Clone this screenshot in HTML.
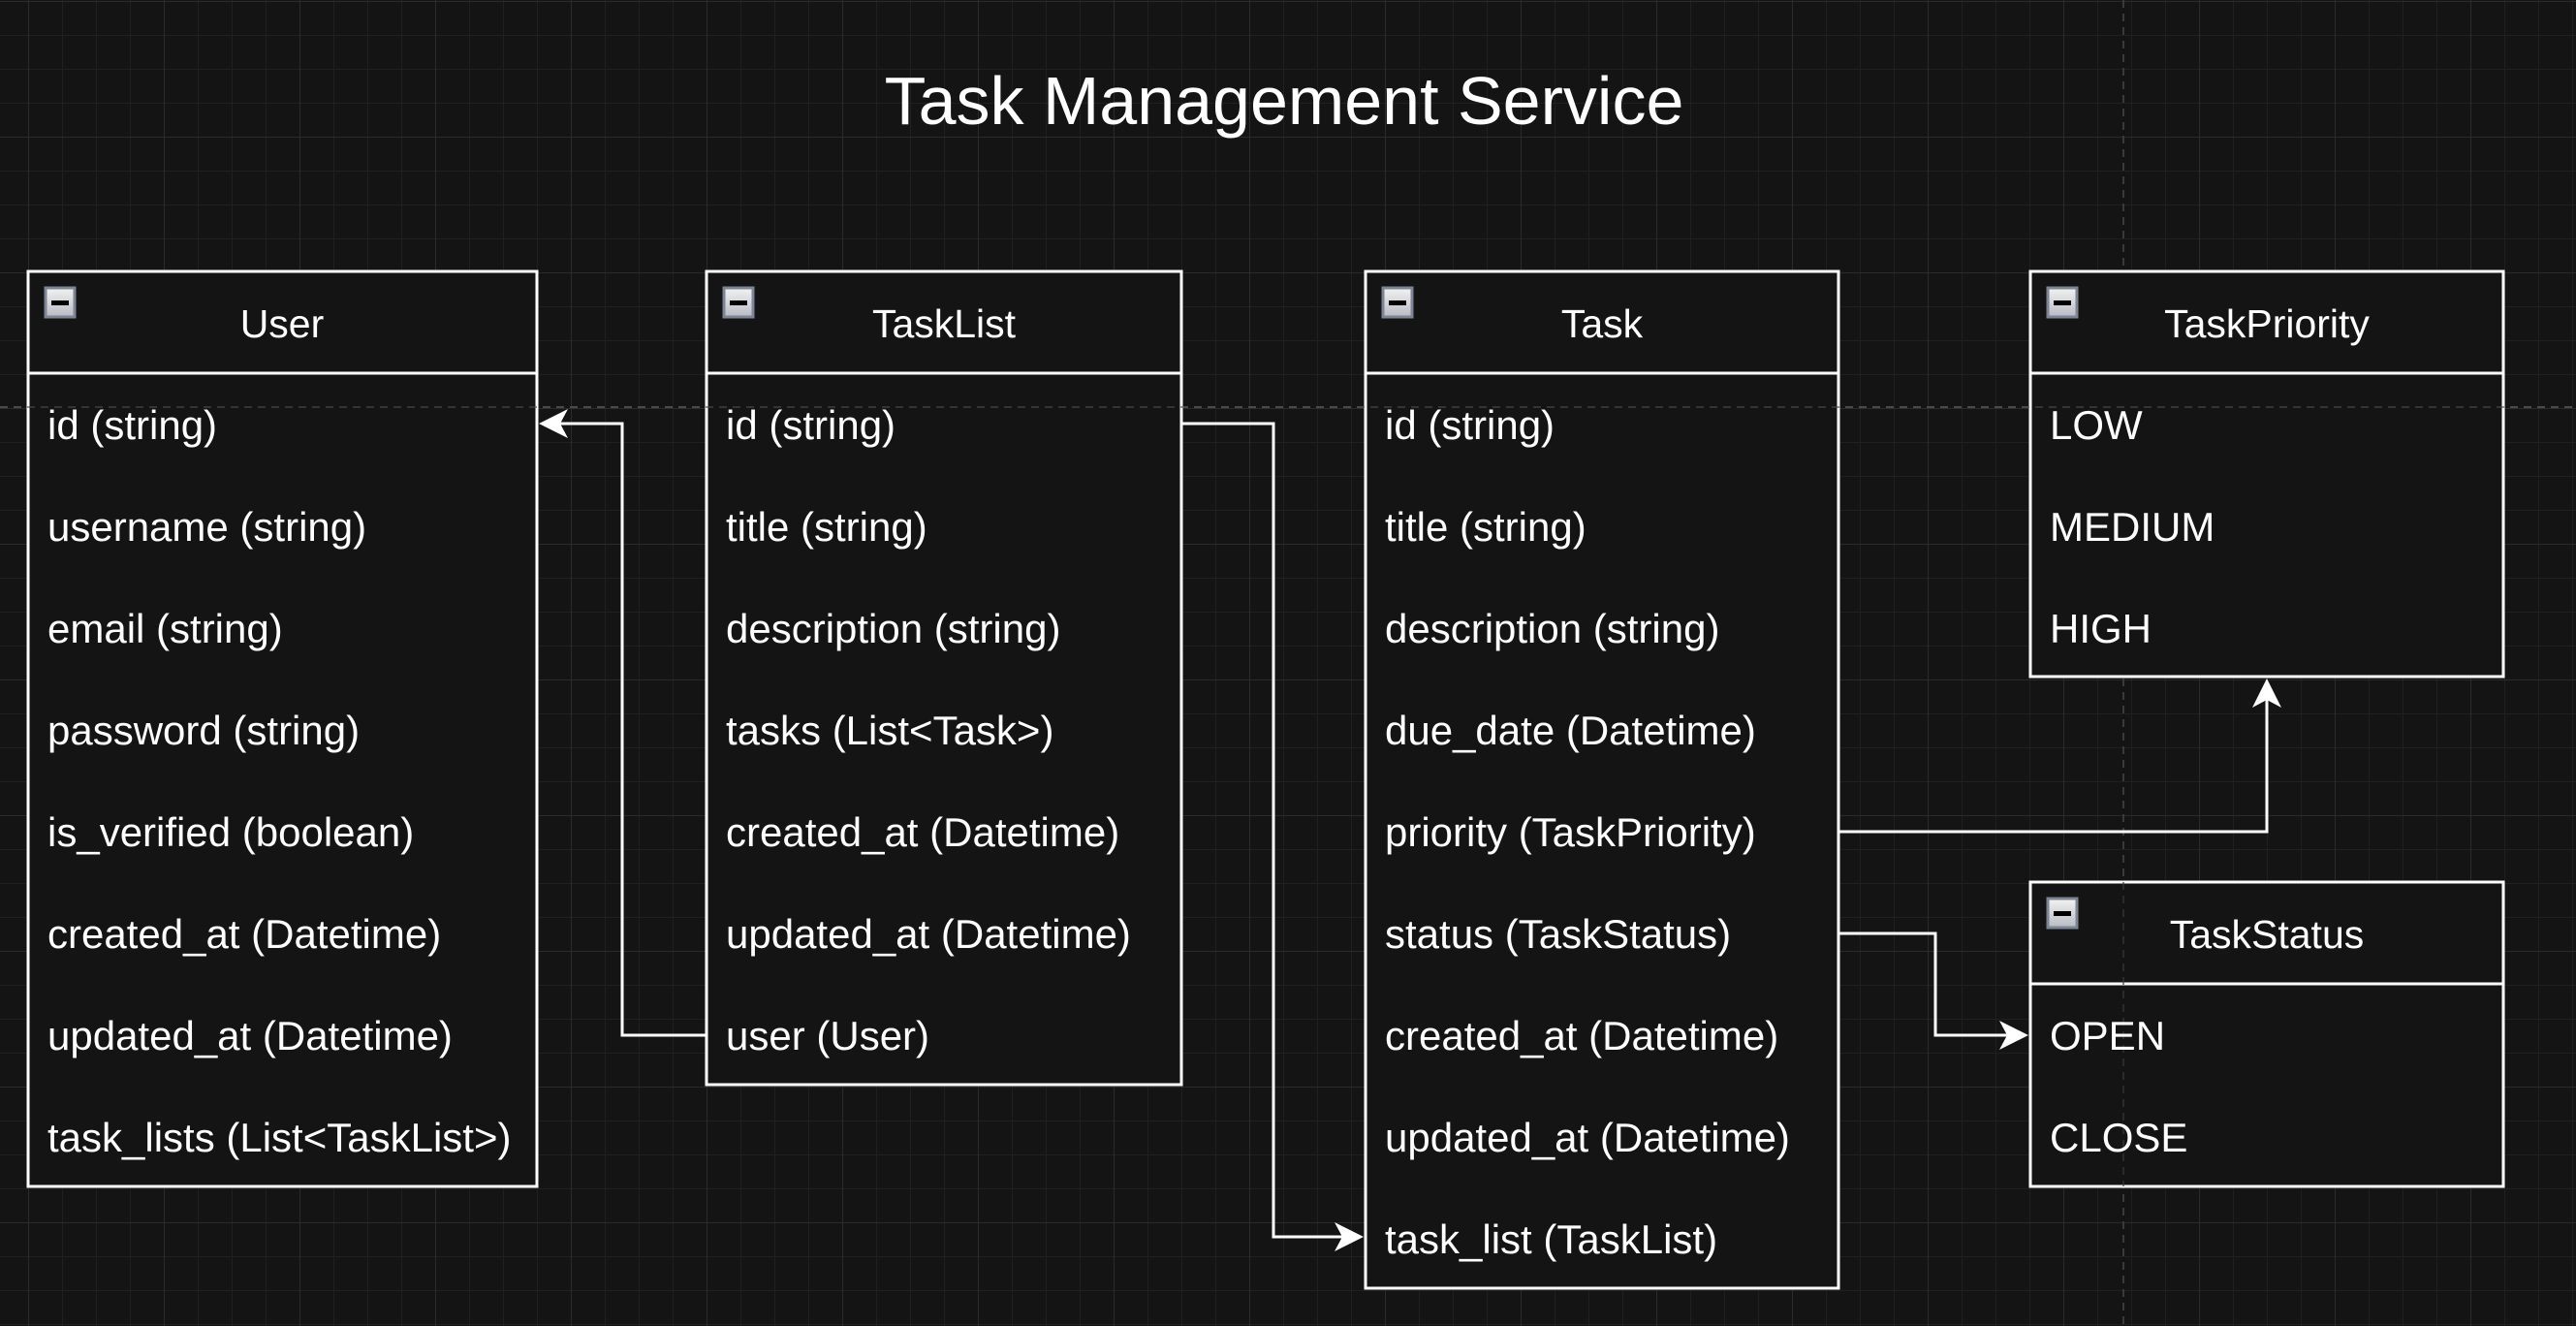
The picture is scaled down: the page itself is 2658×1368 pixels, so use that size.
<!DOCTYPE html>
<html><head><meta charset="utf-8"><style>
html,body{margin:0;padding:0;background:#141414;}
svg{display:block;}
text{font-family:"Liberation Sans",Arial,sans-serif;fill:#fff;}
</style></head><body>
<svg width="2658" height="1368" viewBox="0 0 2658 1368" xmlns="http://www.w3.org/2000/svg">
<defs>
<pattern id="minor" x="29" y="1" width="35" height="35" patternUnits="userSpaceOnUse">
<path d="M0 0V35M0 0H35" stroke="#202020" stroke-width="2" fill="none"/>
</pattern>
<pattern id="major" x="29" y="1" width="140" height="140" patternUnits="userSpaceOnUse">
<path d="M0 0V140M0 0H140" stroke="#2b2b2b" stroke-width="2" fill="none"/>
</pattern>
<linearGradient id="ig" x1="0" y1="0" x2="0" y2="1"><stop offset="0" stop-color="#f2f2f2"/><stop offset="1" stop-color="#b8bcc4"/></linearGradient>
</defs>
<rect width="2658" height="1368" fill="#141414"/>
<rect width="2658" height="1368" fill="url(#minor)"/>
<rect width="2658" height="1368" fill="url(#major)"/>
<line x1="0" y1="420" x2="2658" y2="420" stroke="#4a4a4a" stroke-width="2" stroke-dasharray="8,6"/>
<line x1="2191" y1="0" x2="2191" y2="1368" stroke="#3a3a3a" stroke-width="2" stroke-dasharray="8,6"/>

<text x="1325" y="128" font-size="70" text-anchor="middle">Task Management Service</text>

<g stroke="#fff" stroke-width="3" fill="#141414">
<rect x="29" y="280" width="525" height="944"/>
<line x1="29" y1="385" x2="554" y2="385"/>
<rect x="729" y="280" width="490" height="839"/>
<line x1="729" y1="385" x2="1219" y2="385"/>
<rect x="1409" y="280" width="488" height="1049"/>
<line x1="1409" y1="385" x2="1897" y2="385"/>
<rect x="2095" y="280" width="488" height="418"/>
<line x1="2095" y1="385" x2="2583" y2="385"/>
<rect x="2095" y="910" width="488" height="314"/>
<line x1="2095" y1="1015" x2="2583" y2="1015"/>
</g>
<line x1="0" y1="420" x2="2658" y2="420" stroke="#4a4a4a" stroke-width="2" stroke-dasharray="8,6" opacity="0.6"/>
<line x1="2191" y1="910" x2="2191" y2="1224" stroke="#3a3a3a" stroke-width="2" stroke-dasharray="8,6" opacity="0.6"/>

<g>
<rect x="47" y="297" width="30" height="30" fill="url(#ig)" stroke="#7d8594" stroke-width="3"/><rect x="53" y="310" width="18" height="5" fill="#000"/>
<rect x="747" y="297" width="30" height="30" fill="url(#ig)" stroke="#7d8594" stroke-width="3"/><rect x="753" y="310" width="18" height="5" fill="#000"/>
<rect x="1427" y="297" width="30" height="30" fill="url(#ig)" stroke="#7d8594" stroke-width="3"/><rect x="1433" y="310" width="18" height="5" fill="#000"/>
<rect x="2113" y="297" width="30" height="30" fill="url(#ig)" stroke="#7d8594" stroke-width="3"/><rect x="2119" y="310" width="18" height="5" fill="#000"/>
<rect x="2113" y="927" width="30" height="30" fill="url(#ig)" stroke="#7d8594" stroke-width="3"/><rect x="2119" y="940" width="18" height="5" fill="#000"/>
</g>

<g font-size="41" text-anchor="middle">
<text x="291" y="348">User</text>
<text x="974" y="348">TaskList</text>
<text x="1653" y="348">Task</text>
<text x="2339" y="348">TaskPriority</text>
<text x="2339" y="978">TaskStatus</text>
</g>

<g font-size="42">
<text x="49" y="453">id (string)</text>
<text x="49" y="558">username (string)</text>
<text x="49" y="663">email (string)</text>
<text x="49" y="768">password (string)</text>
<text x="49" y="873">is_verified (boolean)</text>
<text x="49" y="978">created_at (Datetime)</text>
<text x="49" y="1083">updated_at (Datetime)</text>
<text x="49" y="1188">task_lists (List&lt;TaskList&gt;)</text>

<text x="749" y="453">id (string)</text>
<text x="749" y="558">title (string)</text>
<text x="749" y="663">description (string)</text>
<text x="749" y="768">tasks (List&lt;Task&gt;)</text>
<text x="749" y="873">created_at (Datetime)</text>
<text x="749" y="978">updated_at (Datetime)</text>
<text x="749" y="1083">user (User)</text>

<text x="1429" y="453">id (string)</text>
<text x="1429" y="558">title (string)</text>
<text x="1429" y="663">description (string)</text>
<text x="1429" y="768">due_date (Datetime)</text>
<text x="1429" y="873">priority (TaskPriority)</text>
<text x="1429" y="978">status (TaskStatus)</text>
<text x="1429" y="1083">created_at (Datetime)</text>
<text x="1429" y="1188">updated_at (Datetime)</text>
<text x="1429" y="1293">task_list (TaskList)</text>

<text x="2115" y="453">LOW</text>
<text x="2115" y="558">MEDIUM</text>
<text x="2115" y="663">HIGH</text>

<text x="2115" y="1083">OPEN</text>
<text x="2115" y="1188">CLOSE</text>
</g>

<g stroke="#fff" stroke-width="3" fill="none">
<polyline points="729,1068 642,1068 642,437 572,437"/>
<polyline points="1219,437 1314,437 1314,1276 1391,1276"/>
<polyline points="1897,858 2339,858 2339,716"/>
<polyline points="1897,963 1997,963 1997,1068 2077,1068"/>
</g>
<g fill="#fff">
<polygon points="556,437 586,422 578,437 586,452"/>
<polygon points="1407,1276 1377,1261 1385,1276 1377,1291"/>
<polygon points="2339,700 2324,730 2339,722 2354,730"/>
<polygon points="2093,1068 2063,1053 2071,1068 2063,1083"/>
</g>
</svg>
</body></html>
